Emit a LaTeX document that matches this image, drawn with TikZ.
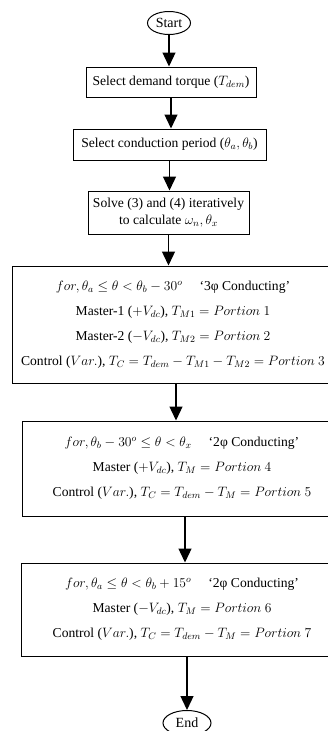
\documentclass[tikz,border=0pt]{standalone}
\usepackage{fix-cm}
\usepackage{amsmath,amssymb}
\usepackage{fontspec}
\setmainfont{Liberation Serif}
\usetikzlibrary{shapes.geometric,arrows.meta,positioning}

\begin{document}
\begin{tikzpicture}[x=1pt, y=-1pt,
    flowbox/.style={draw, rectangle, line width=1pt, align=center, inner sep=0pt,
        font=\fontsize{13.6}{25}\selectfont},
    termnode/.style={draw, ellipse, line width=1pt, inner sep=0pt,
        font=\fontsize{14}{16}\selectfont},
    flowarrow/.style={line width=1.3pt, -{Triangle[width=13pt,length=14pt]}}]
    \useasboundingbox (0, 0) rectangle (327, 731);

    % Terminals
    \node[termnode, minimum width=43, minimum height=23] (start) at (169, 23) {Start};
    \node[termnode, minimum width=48, minimum height=25] (stop) at (187, 723) {End};

    % Setup steps
    \node[flowbox, minimum width=170, minimum height=30] (demand) at (171, 82)
        {Select demand torque ($T_{dem}$)};
    \node[flowbox, minimum width=193, minimum height=31] (period) at (169.5, 144.5)
        {Select conduction period ($\theta_a, \theta_b$)};
    \node[flowbox, minimum width=161, minimum height=43,
          font=\fontsize{13.6}{17}\selectfont] (solve) at (168.5, 212.5)
        {Solve (3) and (4) iteratively\\to calculate $\omega_n, \theta_x$};

    % Conduction intervals
    \node[flowbox, minimum width=322, minimum height=117] (threephase) at (173, 324.5)
        {$for, \theta_a \le \theta < \theta_b - 30^o$\quad\ ‘3φ Conducting’\\
         Master-1 ($+V_{dc}$), $T_{M1} = Portion\ 1$\\
         Master-2 ($-V_{dc}$), $T_{M2} = Portion\ 2$\\
         Control ($Var.$), $T_C = T_{dem} - T_{M1} - T_{M2} = Portion\ 3$};
    \node[flowbox, minimum width=320, minimum height=95] (twophaseA) at (182, 468.5)
        {$for, \theta_b - 30^o \le \theta < \theta_x$\quad\ ‘2φ Conducting’\\
         Master ($+V_{dc}$), $T_M = Portion\ 4$\\
         Control ($Var.$), $T_C = T_{dem} - T_M = Portion\ 5$};
    \node[flowbox, minimum width=322, minimum height=93] (twophaseB) at (182, 609.5)
        {$for, \theta_a \le \theta < \theta_b + 15^o$\quad\ ‘2φ Conducting’\\
         Master ($-V_{dc}$), $T_M = Portion\ 6$\\
         Control ($Var.$), $T_C = T_{dem} - T_M = Portion\ 7$};

    % Arrows
    \draw[flowarrow] (start.south) -- (start.south |- demand.north);
    \draw[flowarrow] (demand.south) -- (demand.south |- period.north);
    \draw[flowarrow] (period.south) -- (period.south |- solve.north);
    \draw[flowarrow] (solve.south) -- (solve.south |- threephase.north);
    \draw[flowarrow] ([xshift=3]threephase.south) -- ([xshift=3]threephase.south |- twophaseA.north);
    \draw[flowarrow] ([xshift=3]twophaseA.south) -- ([xshift=3]twophaseA.south |- twophaseB.north);
    \draw[flowarrow] ([xshift=5]twophaseB.south) -- (stop.north);
\end{tikzpicture}
\end{document}
